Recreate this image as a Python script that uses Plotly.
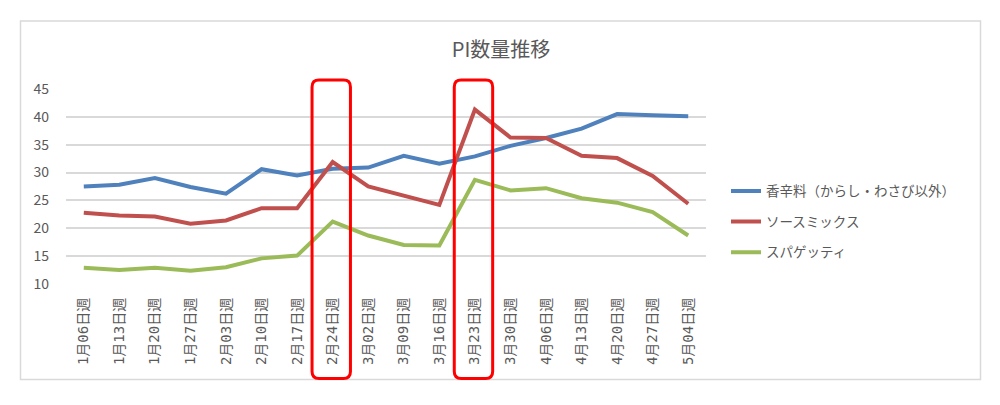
import plotly.graph_objects as go

# ---- data ----
weeks = ["1月06日週", "1月13日週", "1月20日週", "1月27日週", "2月03日週", "2月10日週",
         "2月17日週", "2月24日週", "3月02日週", "3月09日週", "3月16日週", "3月23日週",
         "3月30日週", "4月06日週", "4月13日週", "4月20日週", "4月27日週", "5月04日週"]
spice = [27.5, 27.8, 29.0, 27.4, 26.2, 30.6, 29.5, 30.7, 30.9, 33.0, 31.6, 32.9,
         34.8, 36.2, 37.9, 40.5, 40.3, 40.1]
sauce = [22.8, 22.3, 22.1, 20.8, 21.4, 23.6, 23.6, 31.9, 27.5, 25.8, 24.2, 41.3,
         36.3, 36.2, 33.0, 32.6, 29.4, 24.4]
spaghetti = [12.9, 12.5, 12.9, 12.4, 13.0, 14.6, 15.1, 21.2, 18.7, 17.0, 16.9, 28.7,
             26.8, 27.2, 25.4, 24.6, 22.9, 18.7]
series_names = ["香辛料（からし・わさび以外）", "ソースミックス", "スパゲッティ"]
series_colors = ["#4F81BD", "#C0504D", "#9BBB59"]
highlight_weeks = ["2月24日週", "3月23日週"]
y_ticks = [10, 15, 20, 25, 30, 35, 40, 45]

# ---- layout geometry (pixels) ----
W, H = 1000, 405
PL, PR, PT, PB = 66, 706, 89, 284.3   # plot area
FONT = "Noto Sans CJK JP"
XFONT = "DejaVu Sans Mono, Noto Sans CJK JP"
GRAY = "#595959"

def px_to_paper_x(px):
    return (px - PL) / (PR - PL)

def px_to_paper_y(py):
    return (PB - py) / (PB - PT)

fig = go.Figure()
for i, (name, vals, col) in enumerate(zip(series_names, [spice, sauce, spaghetti], series_colors)):
    fig.add_trace(go.Scatter(x=weeks, y=vals, mode="lines", name=name,
                             legendgroup=f"g{i}",
                             line=dict(color=col, width=4)))

shapes = []
# outer chart border
shapes.append(dict(type="rect", xref="paper", yref="paper",
                   x0=px_to_paper_x(20.5), x1=px_to_paper_x(980.5),
                   y0=px_to_paper_y(380), y1=px_to_paper_y(21),
                   line=dict(color="#D9D9D9", width=1.5), fillcolor="rgba(0,0,0,0)", layer="below"))

# red rounded highlight boxes (positioned by category index)
n = len(weeks)
r_px = 7.0
rx = r_px / (PR - PL)
ry = r_px / (PB - PT)
y_top = px_to_paper_y(80)
y_bot = px_to_paper_y(379)
for wk in highlight_weeks:
    idx = weeks.index(wk)
    x0 = (idx + 0.5 - 0.58) / n
    x1 = (idx + 0.5 + 0.50) / n
    path = (f"M {x0+rx},{y_top} L {x1-rx},{y_top} Q {x1},{y_top} {x1},{y_top-ry} "
            f"L {x1},{y_bot+ry} Q {x1},{y_bot} {x1-rx},{y_bot} "
            f"L {x0+rx},{y_bot} Q {x0},{y_bot} {x0},{y_bot+ry} "
            f"L {x0},{y_top-ry} Q {x0},{y_top} {x0+rx},{y_top} Z")
    shapes.append(dict(type="path", xref="paper", yref="paper", path=path,
                       line=dict(color="#FF0000", width=3), fillcolor="rgba(0,0,0,0)"))

fig.update_layout(
    width=W, height=H,
    margin=dict(l=PL, r=W - PR, t=PT, b=H - PB, autoexpand=False),
    paper_bgcolor="white", plot_bgcolor="white",
    font=dict(family=FONT, color=GRAY, size=13),
    title=dict(text="PI数量推移", x=501 / W, xref="container", xanchor="center",
               y=1 - 50 / H, yref="container", yanchor="middle",
               font=dict(family=FONT, size=20, color=GRAY)),
    showlegend=True,
    legend=dict(x=px_to_paper_x(726), y=px_to_paper_y(222), xanchor="left", yanchor="middle",
                font=dict(family=FONT, size=13.5, color=GRAY),
                tracegroupgap=10, bgcolor="rgba(0,0,0,0)"),
    shapes=shapes,
)
fig.update_xaxes(type="category", range=[-0.5, n - 0.5], showgrid=False, zeroline=False,
                 showline=False, tickangle=-90, ticks="",
                 tickfont=dict(family=XFONT, size=14, color=GRAY), ticklabelstandoff=10)
fig.update_yaxes(range=[10, 45], tickvals=y_ticks, showgrid=True, gridcolor="#D9D9D9",
                 gridwidth=1.5, zeroline=False, showline=False, ticks="",
                 tickfont=dict(family=FONT, size=14, color=GRAY), ticklabelstandoff=16)

fig.write_html("out.html")
